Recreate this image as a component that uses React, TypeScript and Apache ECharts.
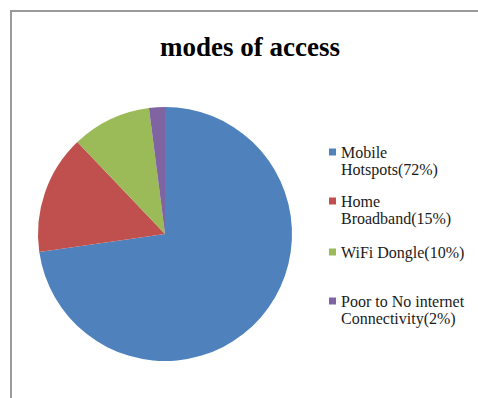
import React, { useEffect, useRef } from "react";
import * as echarts from "echarts";

const titleText = "modes of access";
const categories = [
  "Mobile\nHotspots(72%)",
  "Home\nBroadband(15%)",
  "WiFi Dongle(10%)",
  "Poor to No internet\nConnectivity(2%)",
];
const values = [72, 15, 10, 2];
const colors = ["#4F81BD", "#C0504D", "#9BBB59", "#8064A2"];
const legendTops = [143.5, 192.5, 243.5, 292.5];

const FONT = "'Liberation Serif', 'Times New Roman', serif";
const twoLineIcon = "path://M0,0L7,0L7,7L0,7ZM0,23.95L7,23.95L7,24L0,24Z";

export default function App() {
  const ref = useRef<HTMLDivElement>(null);
  useEffect(() => {
    if (!ref.current) return;
    const chart = echarts.init(ref.current, undefined, { renderer: "svg" });
    const legends = categories.map((name, i) => {
      const twoLines = name.includes("\n");
      return {
        orient: "vertical",
        left: 329,
        top: legendTops[i],
        padding: 0,
        itemWidth: 7,
        itemHeight: twoLines ? 24 : 7,
        icon: twoLines ? twoLineIcon : "rect",
        selectedMode: false,
        data: [name],
        textStyle: {
          fontFamily: FONT,
          fontSize: 16,
          lineHeight: 17,
          color: "#1a1a1a",
        },
      };
    });
    chart.setOption({
      animation: false,
      backgroundColor: "#ffffff",
      graphic: [
        {
          type: "rect",
          shape: { x: 11, y: 11, width: 600, height: 600 },
          style: { fill: "none", stroke: "#9a9a9a", lineWidth: 2 },
          silent: true,
        },
        {
          type: "text",
          x: 250,
          y: 47,
          style: {
            text: titleText,
            font: `bold 27px ${FONT}`,
            fill: "#000000",
            textAlign: "center",
            textVerticalAlign: "middle",
          },
        },
      ],
      legend: legends,
      series: [
        {
          type: "pie",
          center: [165, 234],
          radius: 127,
          startAngle: 90,
          clockwise: true,
          label: { show: false },
          labelLine: { show: false },
          emphasis: { disabled: true },
          itemStyle: { borderWidth: 0 },
          data: categories.map((name, i) => ({
            name,
            value: values[i],
            itemStyle: { color: colors[i] },
          })),
        },
      ],
    });
    return () => chart.dispose();
  }, []);
  return (
    <div
      ref={ref}
      style={{ position: "fixed", left: 0, top: 0, width: 478, height: 398 }}
    />
  );
}
